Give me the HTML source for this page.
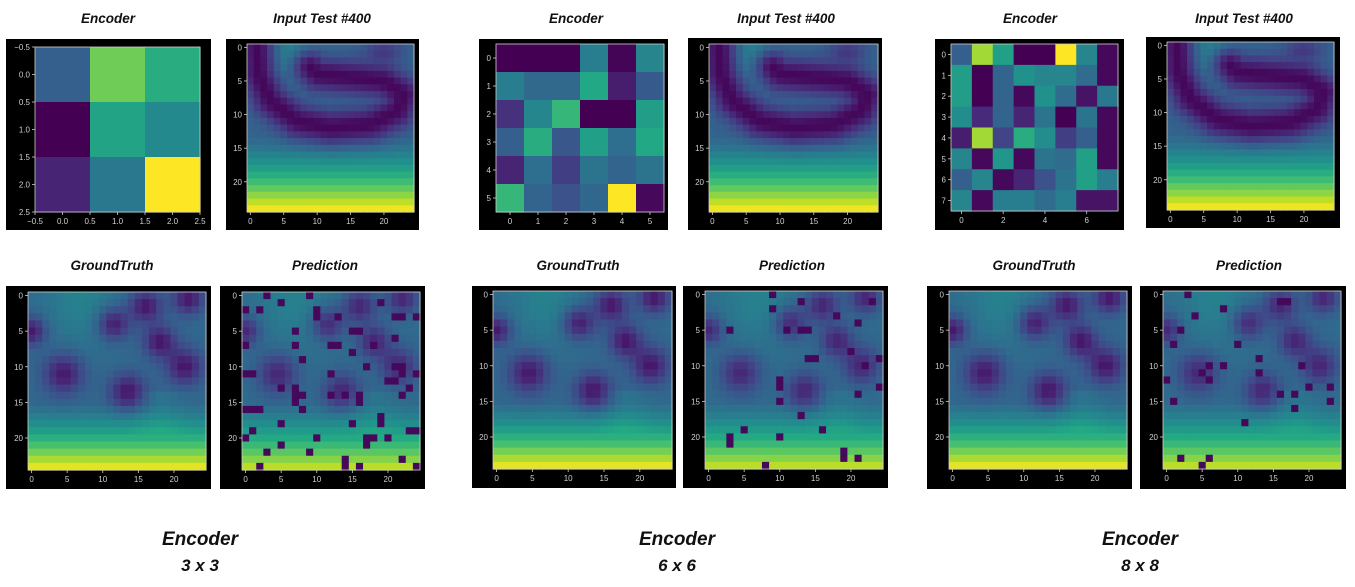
<!DOCTYPE html>
<html><head><meta charset="utf-8">
<style>
html,body{margin:0;padding:0;background:#fff;}
svg{display:block;}
.t{font-family:"Liberation Sans",sans-serif;font-weight:bold;font-style:italic;fill:#111;}
.k{font-family:"Liberation Sans",sans-serif;font-size:8px;fill:#cfcfcf;}
</style></head>
<body>
<svg id="s" width="1355" height="587" xmlns="http://www.w3.org/2000/svg">
<text class="t" x="108" y="23" font-size="13.5" text-anchor="middle">Encoder</text>
<text class="t" x="322" y="23" font-size="13.5" text-anchor="middle">Input Test #400</text>
<text class="t" x="112" y="270" font-size="13.5" text-anchor="middle">GroundTruth</text>
<text class="t" x="325" y="270" font-size="13.5" text-anchor="middle">Prediction</text>
<text class="t" x="576" y="23" font-size="13.5" text-anchor="middle">Encoder</text>
<text class="t" x="786" y="23" font-size="13.5" text-anchor="middle">Input Test #400</text>
<text class="t" x="578" y="270" font-size="13.5" text-anchor="middle">GroundTruth</text>
<text class="t" x="792" y="270" font-size="13.5" text-anchor="middle">Prediction</text>
<text class="t" x="1030" y="23" font-size="13.5" text-anchor="middle">Encoder</text>
<text class="t" x="1244" y="23" font-size="13.5" text-anchor="middle">Input Test #400</text>
<text class="t" x="1034" y="270" font-size="13.5" text-anchor="middle">GroundTruth</text>
<text class="t" x="1249" y="270" font-size="13.5" text-anchor="middle">Prediction</text>
<text class="t" x="200" y="545" font-size="19" text-anchor="middle">Encoder</text>
<text class="t" x="200" y="571" font-size="17" text-anchor="middle">3 x 3</text>
<text class="t" x="677" y="545" font-size="19" text-anchor="middle">Encoder</text>
<text class="t" x="677" y="571" font-size="17" text-anchor="middle">6 x 6</text>
<text class="t" x="1140" y="545" font-size="19" text-anchor="middle">Encoder</text>
<text class="t" x="1140" y="571" font-size="17" text-anchor="middle">8 x 8</text>
</svg>
<script>
var S=document.getElementById('s'),NS='http://www.w3.org/2000/svg';
var stops=['#440154','#482475','#414487','#355f8d','#2a788e','#21918c','#22a884','#44bf70','#7ad151','#bddf26','#fde725'];
function hx(h){return [parseInt(h.substr(1,2),16),parseInt(h.substr(3,2),16),parseInt(h.substr(5,2),16)];}
var st=stops.map(hx);
function vir(v){v=Math.max(0,Math.min(1,v));var f=v*10,i=Math.min(9,Math.floor(f)),t=f-i;var a=st[i],b=st[i+1];
return 'rgb('+[0,1,2].map(function(k){return Math.round(a[k]+(b[k]-a[k])*t)}).join(',')+')';}
function el(n,a){var e=document.createElementNS(NS,n);for(var k in a)e.setAttribute(k,a[k]);S.appendChild(e);return e;}
function panel(box,p,n,fn,xt,yt){
 el('rect',{x:box[0],y:box[1],width:box[2]-box[0],height:box[3]-box[1],fill:'#000'});
 var cw=p[2]/n,ch=p[3]/n;
 for(var r=0;r<n;r++)for(var c=0;c<n;c++){
  el('rect',{x:(p[0]+c*cw).toFixed(2),y:(p[1]+r*ch).toFixed(2),width:(cw+0.6).toFixed(2),height:(ch+0.6).toFixed(2),fill:vir(fn(r,c))});}
 el('rect',{x:p[0],y:p[1],width:p[2],height:p[3],fill:'none',stroke:'#cfcfcf','stroke-width':0.8});
 xt.forEach(function(t){var x=p[0]+(t[0]+0.5)*cw;el('line',{x1:x,y1:p[1]+p[3],x2:x,y2:p[1]+p[3]+3,stroke:'#cfcfcf','stroke-width':0.8});
  var e=el('text',{x:x,y:p[1]+p[3]+12,'class':'k','text-anchor':'middle'});e.textContent=t[1];});
 yt.forEach(function(t){var y=p[1]+(t[0]+0.5)*ch;el('line',{x1:p[0]-3,y1:y,x2:p[0],y2:y,stroke:'#cfcfcf','stroke-width':0.8});
  var e=el('text',{x:p[0]-5,y:y+3,'class':'k','text-anchor':'end'});e.textContent=t[1];});
}
function grid(a){return function(r,c){return a[r][c];};}
var curve=[[1,0],[1.2,4],[3,8],[7,11],[12,12],[18,11.5],[22,9.5],[23,7],[20,5],[15,4.5],[10,4],[9,3]];
function dseg(px,py,ax,ay,bx,by){var dx=bx-ax,dy=by-ay,t=((px-ax)*dx+(py-ay)*dy)/(dx*dx+dy*dy);t=Math.max(0,Math.min(1,t));var x=ax+t*dx-px,y=ay+t*dy-py;return Math.sqrt(x*x+y*y);}
function inp(r,c){var v=0.32+0.12*Math.exp(-((c-6)*(c-6))/18-(r*r)/18);
 if(r>13)v+=Math.pow((r-13)/11,1.3)*0.66;
 var d=1e9;for(var i=0;i<curve.length-1;i++)d=Math.min(d,dseg(c,r,curve[i][0],curve[i][1],curve[i+1][0],curve[i+1][1]));
 v*=(1-0.95*Math.exp(-d*d/(2*1.8*1.8)));
 v-=0.15*Math.exp(-((c-20)*(c-20))/8-((r-0.5)*(r-0.5))/2);
 return v;}
var blobs=[[4.5,11,2],[13.5,13.5,1.8],[21.5,10,1.8],[11.5,4,1.6],[16,1.5,1.6],[18,6.5,1.6],[22,0.5,1.5],[0,5,1.4]];
function gt(r,c){var v=0.34+0.1*Math.exp(-((c-7)*(c-7))/25-(r*r)/50);
 if(r>=15)v+=Math.pow((r-15)/9,1.3)*0.62;
 if(r>=14&&r<20)v+=0.05*Math.exp(-((c-18)*(c-18))/10);
 blobs.forEach(function(b){var d2=(c-b[0])*(c-b[0])+(r-b[1])*(r-b[1]);v-=0.28*Math.exp(-d2/(2*b[2]*b[2]));});
 return v;}
function pred(list){var m={};list.forEach(function(p){m[p[0]+','+p[1]]=1;});
 return function(r,c){if(m[c+','+r])return 0.02;return 0.88*gt(r,c)+0.05;};}
var P1=[[3,0],[9,0],[5,1],[0,2],[2,2],[10,2],[10,3],[19,1],[13,3],[21,3],[22,3],[24,3],[7,5],[15,5],[16,5],[21,6],[0,7],[7,7],[12,7],[13,7],[18,7],[15,8],[8,9],[17,10],[21,10],[22,10],[22,11],[0,11],[1,11],[12,11],[24,11],[20,12],[21,12],[5,13],[7,13],[7,14],[7,15],[8,14],[12,14],[14,14],[16,14],[16,15],[23,13],[22,14],[0,16],[1,16],[2,16],[8,16],[19,17],[19,18],[5,18],[15,18],[1,19],[23,19],[24,19],[0,20],[10,20],[17,20],[17,21],[18,20],[20,20],[5,21],[3,22],[9,22],[14,23],[14,24],[22,23],[2,24],[16,24],[24,24]];
var P2=[[9,0],[13,1],[23,1],[9,2],[18,3],[21,4],[3,5],[11,5],[13,5],[14,5],[20,8],[14,9],[15,9],[24,9],[22,10],[10,12],[10,13],[24,13],[21,14],[10,15],[13,17],[5,19],[16,19],[3,20],[3,21],[10,20],[19,22],[19,23],[21,23],[8,24]];
var P3=[[3,0],[16,1],[17,1],[8,2],[4,3],[2,5],[1,7],[10,7],[13,9],[6,10],[8,10],[19,10],[5,11],[13,11],[0,12],[6,12],[20,13],[23,13],[16,14],[18,14],[1,15],[23,15],[18,16],[11,18],[2,23],[6,23],[5,24]];
var t25=[[0,'0'],[5,'5'],[10,'10'],[15,'15'],[20,'20']];
var e3=[[0.3,0.78,0.62],[0.0,0.58,0.47],[0.1,0.4,1.0]];
var e6=[[0.0,0.0,0.0,0.42,0.01,0.45],[0.42,0.34,0.34,0.6,0.08,0.28],[0.14,0.46,0.66,0.0,0.0,0.55],[0.3,0.62,0.27,0.56,0.36,0.6],[0.1,0.36,0.18,0.38,0.32,0.38],[0.66,0.32,0.25,0.33,1.0,0.02]];
var e8=[[0.3,0.86,0.56,0.0,0.0,1.0,0.45,0.02],[0.55,0.0,0.32,0.5,0.45,0.45,0.35,0.02],[0.55,0.0,0.32,0.02,0.5,0.35,0.05,0.4],[0.48,0.12,0.32,0.1,0.38,0.0,0.38,0.02],[0.08,0.86,0.2,0.62,0.48,0.18,0.3,0.02],[0.45,0.02,0.52,0.02,0.38,0.35,0.56,0.02],[0.3,0.45,0.02,0.1,0.25,0.38,0.56,0.42],[0.45,0.02,0.42,0.42,0.35,0.42,0.05,0.05]];
var t3=[];for(var i=0;i<7;i++){var v=-0.5+i*0.5;t3.push([v,v.toFixed(1).replace('-','\u2212')]);}
panel([6,39,211,230],[35,47,165,165],3,grid(e3),t3,t3);
panel([226,39,419,230],[247,44,167,168],25,inp,t25,t25);
panel([6,286,211,489],[28,292,178,178],25,gt,t25,t25);
panel([220,286,425,489],[242,292,178,178],25,pred(P1),t25,t25);
var t6=[[0,'0'],[1,'1'],[2,'2'],[3,'3'],[4,'4'],[5,'5']];
panel([479,39,668,230],[496,44,168,168],6,grid(e6),t6,t6);
panel([688,38,882,230],[709,44,169,168],25,inp,t25,t25);
panel([472,286,676,488],[493,291,179,178],25,gt,t25,t25);
panel([683,286,888,488],[705,291,178,178],25,pred(P2),t25,t25);
panel([935,39,1124,230],[951,44,167,167],8,grid(e8),[[0,'0'],[2,'2'],[4,'4'],[6,'6']],[[0,'0'],[1,'1'],[2,'2'],[3,'3'],[4,'4'],[5,'5'],[6,'6'],[7,'7']]);
panel([1146,37,1340,228],[1167,42,167,168],25,inp,t25,t25);
panel([927,286,1132,489],[949,291,178,178],25,gt,t25,t25);
panel([1140,286,1346,489],[1163,291,178,178],25,pred(P3),t25,t25);
</script>
</body></html>
